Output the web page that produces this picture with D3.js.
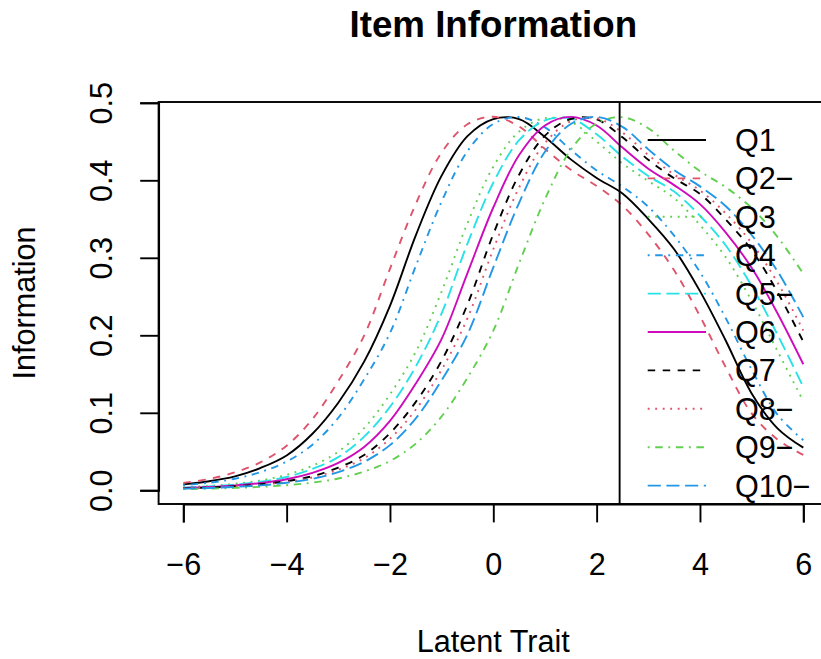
<!DOCTYPE html>
<html>
<head>
<meta charset="utf-8">
<script src="https://cdn.jsdelivr.net/npm/d3@7"></script>
<style>
  html, body { margin: 0; padding: 0; background: #fff; }
  svg { display: block; }
  text { font-family: "Liberation Sans", Arial, Helvetica, sans-serif; fill: #000; }
</style>
</head>
<body>
<svg id="chart" width="821" height="659"></svg>
<script>
const theta = [-6,-5.5,-5,-4.5,-4,-3.5,-3,-2.5,-2,-1.5,-1,-0.5,0,0.5,1,1.5,2,2.5,3,3.5,4,4.5,5,5.5,6];

const q1  = [0.0077,0.0117,0.018,0.029,0.045,0.073,0.113,0.166,0.238,0.329,0.406,0.457,0.479,0.479,0.456,0.427,0.403,0.383,0.350,0.311,0.257,0.193,0.125,0.080,0.055];
const q2  = [0.0096,0.0146,0.0232,0.0364,0.0576,0.0919,0.141,0.1996,0.2858,0.3695,0.4359,0.4723,0.482,0.4694,0.4404,0.4136,0.3926,0.3673,0.3302,0.2839,0.2247,0.1586,0.0992,0.0656,0.0457];
const q3  = [0.0039,0.0056,0.0084,0.0128,0.020,0.0318,0.0498,0.0802,0.1238,0.1788,0.2564,0.3446,0.4176,0.463,0.4802,0.4754,0.450,0.4218,0.399,0.377,0.3424,0.3006,0.2446,0.1798,0.115];
const q4  = [0.0065,0.0098,0.0149,0.0237,0.0371,0.0589,0.0936,0.1431,0.2028,0.2894,0.3726,0.4376,0.4728,0.4816,0.4683,0.4393,0.4127,0.3918,0.3658,0.3286,0.2816,0.222,0.1558,0.0976,0.0647];
const q5  = [0.0035,0.0050,0.0074,0.0112,0.0172,0.0276,0.0428,0.0692,0.1077,0.1598,0.2284,0.3182,0.3969,0.4517,0.4773,0.4797,0.4594,0.4304,0.4056,0.3854,0.3543,0.3158,0.2637,0.2009,0.1334];
const q6  = [0.0030,0.0042,0.0062,0.0094,0.0143,0.0226,0.0354,0.056,0.0896,0.1378,0.1954,0.2803,0.3649,0.4327,0.4708,0.4818,0.4707,0.4422,0.415,0.3938,0.3692,0.3325,0.2871,0.2285,0.1626];
const q7  = [0.0025,0.0036,0.0052,0.0078,0.0118,0.0182,0.0293,0.0455,0.0737,0.1141,0.1673,0.2398,0.3306,0.4072,0.4576,0.4791,0.4786,0.4554,0.4265,0.4026,0.3824,0.3492,0.31,0.2558,0.1917];
const q8  = [0.0023,0.0034,0.0048,0.0071,0.0108,0.0166,0.0266,0.0414,0.0666,0.1042,0.1556,0.222,0.311,0.3908,0.4482,0.4762,0.4802,0.4616,0.4326,0.4074,0.387,0.3572,0.319,0.2682,0.2062];
const q9  = [0.0016,0.0022,0.0031,0.0045,0.0066,0.0099,0.0152,0.0242,0.0378,0.0602,0.0954,0.1452,0.206,0.293,0.3756,0.4394,0.4734,0.4814,0.4672,0.4382,0.4118,0.391,0.3644,0.327,0.2794];
const q10 = [0.0021,0.0030,0.0044,0.0064,0.0097,0.0148,0.0235,0.0367,0.0583,0.0928,0.1421,0.2012,0.2876,0.371,0.4368,0.4726,0.4818,0.4689,0.4399,0.4131,0.3922,0.3666,0.3294,0.2828,0.2234];

const itemLabels = ["Q1","Q2\u2212","Q3","Q4","Q5\u2212","Q6","Q7","Q8\u2212","Q9\u2212","Q10\u2212"];
const itemValues = [q1,q2,q3,q4,q5,q6,q7,q8,q9,q10];
const xTicks = [-6,-4,-2,0,2,4,6];
const yTicks = [0.0,0.1,0.2,0.3,0.4,0.5];
const cutLine = 2.445;

const colors = ["#000000","#DF536B","#61D04F","#2297E6","#28E2E5","#CD0BBC","#000000","#DF536B","#61D04F","#2297E6"];
const dashes = ["none","7.5,7.5","1.9,5.6","1.9,5.6,7.5,5.6","13.1,5.6","none","7.5,7.5","1.9,5.6","1.9,5.6,7.5,5.6","13.1,5.6"];

const W = 821, H = 659;
const box = {left: 158.6, right: 828, top: 102, bottom: 504};
const lw = 1.9;
const fs = 30.6;

const svg = d3.select("#chart");
svg.append("rect").attr("width", W).attr("height", H).attr("fill", "#fff");

const x = d3.scaleLinear().domain([-6, 6]).range([183.3, 803.3]);
const y = d3.scaleLinear().domain([0, 0.5]).range([490.3, 102.8]);

svg.append("clipPath").attr("id", "plotclip")
  .append("rect").attr("x", box.left).attr("y", box.top)
  .attr("width", box.right - box.left).attr("height", box.bottom - box.top);

const plot = svg.append("g").attr("clip-path", "url(#plotclip)");

const line = d3.line()
  .x(d => x(d[0])).y(d => y(d[1]))
  .curve(d3.curveCatmullRom.alpha(0.5));

itemValues.forEach((vals, i) => {
  const pts = theta.map((t, j) => [t, vals[j]]);
  plot.append("path")
    .attr("d", line(pts))
    .attr("fill", "none")
    .attr("stroke", colors[i])
    .attr("stroke-width", lw)
    .attr("stroke-dasharray", dashes[i])
    .attr("stroke-linecap", "butt");
});

plot.append("line")
  .attr("x1", x(cutLine)).attr("x2", x(cutLine))
  .attr("y1", box.top).attr("y2", box.bottom)
  .attr("stroke", "#000").attr("stroke-width", lw);

svg.append("rect")
  .attr("x", box.left).attr("y", box.top)
  .attr("width", box.right - box.left).attr("height", box.bottom - box.top)
  .attr("fill", "none").attr("stroke", "#000").attr("stroke-width", lw);

const xAxis = d3.axisBottom(x).tickValues(xTicks).tickSize(18.4).tickPadding(0).tickFormat(d3.format("d"));
const gx = svg.append("g").attr("transform", `translate(0,${box.bottom})`).call(xAxis);
gx.select(".domain").attr("stroke-width", lw);
gx.selectAll(".tick line").attr("stroke-width", lw);
gx.selectAll(".tick text")
  .attr("y", 70.5).attr("dy", null)
  .style("font-size", fs + "px")
  .style("font-family", '"Liberation Sans", Arial, Helvetica, sans-serif');

const yAxis = d3.axisLeft(y).tickValues(yTicks).tickSize(18.4).tickPadding(0).tickFormat(d3.format(".1f"));
const gy = svg.append("g").attr("transform", `translate(${box.left},0)`).call(yAxis);
gy.select(".domain").attr("stroke-width", lw);
gy.selectAll(".tick line").attr("stroke-width", lw);
gy.selectAll(".tick text")
  .attr("x", null).attr("dy", null)
  .attr("text-anchor", "middle")
  .attr("transform", `translate(${112 - box.left},0) rotate(-90)`)
  .style("font-size", fs + "px")
  .style("font-family", '"Liberation Sans", Arial, Helvetica, sans-serif');

svg.append("text")
  .attr("x", (box.left + box.right) / 2).attr("y", 37)
  .attr("text-anchor", "middle")
  .style("font-size", (fs * 1.2) + "px").style("font-weight", "bold")
  .text("Item Information");

svg.append("text")
  .attr("x", (box.left + box.right) / 2).attr("y", 652)
  .attr("text-anchor", "middle")
  .style("font-size", fs + "px")
  .text("Latent Trait");

svg.append("text")
  .attr("transform", `translate(35,${(box.top + box.bottom) / 2}) rotate(-90)`)
  .attr("text-anchor", "middle")
  .style("font-size", fs + "px")
  .text("Information");

const leg = svg.append("g");
itemLabels.forEach((lab, i) => {
  const ry = 140 + i * 38.4;
  leg.append("line")
    .attr("x1", 647.7).attr("x2", 706)
    .attr("y1", ry).attr("y2", ry)
    .attr("stroke", colors[i]).attr("stroke-width", lw)
    .attr("stroke-dasharray", dashes[i]);
  leg.append("text")
    .attr("x", 735).attr("y", ry + 11)
    .style("font-size", fs + "px")
    .text(lab);
});
</script>
</body>
</html>
